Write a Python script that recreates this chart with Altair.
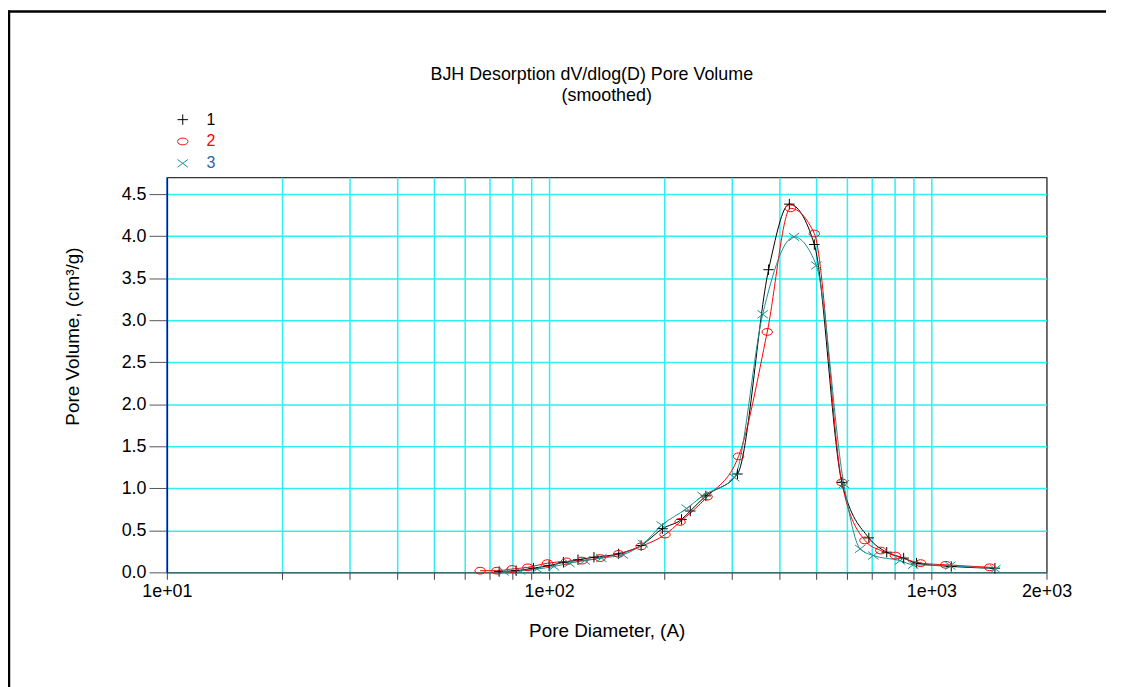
import altair as alt
import pandas as pd

# ---------------- data ----------------
series_names = ["1", "2", "3"]
series_colors = ["#000000", "#FF0000", "#1E8E8E"]
label_colors = ["#000000", "#FF0000", "#2F5FA8"]

d1 = [74, 82, 91, 100, 109, 119, 131, 152, 174, 198, 222, 234, 257, 311, 375, 425, 494, 583, 686, 764, 846, 914, 1127, 1466]
v1 = [0.01, 0.02, 0.05, 0.08, 0.12, 0.15, 0.18, 0.22, 0.32, 0.52, 0.63, 0.73, 0.91, 1.17, 3.60, 4.38, 3.90, 1.07, 0.41, 0.24, 0.17, 0.11, 0.07, 0.05]

d2 = [66, 73, 80, 88, 99, 111, 122, 136, 152, 174, 201, 220, 259, 313, 372, 428, 494, 583, 670, 737, 805, 937, 1090, 1420]
v2 = [0.02, 0.02, 0.04, 0.06, 0.11, 0.13, 0.14, 0.17, 0.22, 0.31, 0.45, 0.60, 0.90, 1.38, 2.86, 4.33, 4.03, 1.07, 0.38, 0.26, 0.20, 0.11, 0.09, 0.06]

d3 = [76, 84, 93, 103, 113, 124, 137, 156, 176, 197, 229, 252, 305, 362, 437, 500, 590, 651, 705, 828, 896, 1120, 1470]
v3 = [0.01, 0.02, 0.04, 0.07, 0.11, 0.14, 0.17, 0.21, 0.34, 0.56, 0.76, 0.91, 1.13, 3.07, 3.99, 3.65, 1.05, 0.28, 0.20, 0.14, 0.09, 0.08, 0.04]

x_tick_values = [10, 20, 30, 40, 50, 60, 70, 80, 90, 100, 200, 300, 400, 500, 600, 700, 800, 900, 1000, 2000]
x_label_values = [10, 100, 1000, 2000]
x_label_texts = ["1e+01", "1e+02", "1e+03", "2e+03"]
y_tick_values = [0.0, 0.5, 1.0, 1.5, 2.0, 2.5, 3.0, 3.5, 4.0, 4.5]

title_lines = ["BJH Desorption dV/dlog(D) Pore Volume", "(smoothed)"]
x_title = "Pore Diameter, (A)"
y_title = "Pore Volume, (cm³/g)"

# marker shapes (custom symbol paths): plus, ellipse, x
marker_paths = [
    "M-1,0L1,0M0,-1L0,1",
    "M-1,0A1,0.65,0,1,1,1,0A1,0.65,0,1,1,-1,0Z",
    "M-1,-0.75L1,0.75M-1,0.75L1,-0.75",
]

# ---------------- tables ----------------
rows = []
for name, ds, vs in zip(series_names, [d1, d2, d3], [v1, v2, v3]):
    for d, v in zip(ds, vs):
        rows.append({"D": d, "V": v, "series": name})
df = pd.DataFrame(rows)

legend_df = pd.DataFrame({
    "series": series_names,
    "row": list(range(len(series_names))),
    "lc": label_colors,
})

FONT = "Liberation Sans"
GRID = "#2EEFF2"

label_expr = " : ".join(
    f"datum.value == {v} ? '{t}'" for v, t in zip(x_label_values, x_label_texts)
) + " : ''"

color_scale = alt.Scale(domain=series_names, range=series_colors)
shape_scale = alt.Scale(domain=series_names, range=marker_paths)

x_enc = alt.X(
    "D:Q",
    scale=alt.Scale(type="log", domain=[10, 2000], nice=False),
    axis=alt.Axis(
        values=x_tick_values,
        labelExpr=label_expr,
        grid=True,
        gridColor={"condition": {"test": "datum.value == 2000", "value": "#666666"},
                   "value": GRID},
        gridWidth=1.5,
        tickSize=7,
        tickColor="#444444",
        domainColor="#444444",
        labelPadding=3,
        labelFlush=False,
        labelOverlap=False,
        title=x_title,
        titleY=59,
        titleBaseline="middle",
    ),
)
y_enc = alt.Y(
    "V:Q",
    scale=alt.Scale(domain=[0, 4.7], nice=False, zero=True),
    axis=alt.Axis(
        values=y_tick_values,
        format=".1f",
        grid=True,
        gridColor=GRID,
        gridWidth=1.5,
        tickSize=18,
        tickColor="#555555",
        domainColor="#0000FF",
        domainWidth=1.5,
        labelPadding=3,
        title=y_title,
        titleX=-95,
        titleY=160,
        titleAngle=270,
        titleAlign="center",
        titleBaseline="middle",
    ),
)

lines = alt.Chart(df).mark_line(interpolate="monotone", strokeWidth=1).encode(
    x=x_enc,
    y=y_enc,
    color=alt.Color("series:N", scale=color_scale, legend=None),
)

points = alt.Chart(df).mark_point(filled=False, strokeWidth=1, opacity=1, size=110).encode(
    x=alt.X("D:Q"),
    y=alt.Y("V:Q"),
    color=alt.Color("series:N", scale=color_scale, legend=None),
    shape=alt.Shape("series:N", scale=shape_scale, legend=None),
)

data_layer = alt.layer(lines, points)

legend_y = alt.Y("row:Q", scale=alt.Scale(domain=[0, 2], range=[-58, -14]), axis=None)

legend_sym = alt.Chart(legend_df).mark_point(filled=False, strokeWidth=1, opacity=1, size=110).encode(
    x=alt.value(16),
    y=legend_y,
    color=alt.Color("series:N", scale=color_scale, legend=None),
    shape=alt.Shape("series:N", scale=shape_scale, legend=None),
)
legend_txt = alt.Chart(legend_df).mark_text(
    align="left", baseline="middle", font=FONT, fontSize=16
).encode(
    x=alt.value(40),
    y=legend_y,
    text="series:N",
    color=alt.Color("lc:N", scale=None),
)
legend_layer = alt.layer(legend_sym, legend_txt)

title1 = alt.Chart(pd.DataFrame({"t": [title_lines[0]]})).mark_text(
    align="center", baseline="middle", font=FONT, fontSize=18
).encode(x=alt.value(428), y=alt.value(-103), text="t:N")
title2 = alt.Chart(pd.DataFrame({"t": [title_lines[1]]})).mark_text(
    align="center", baseline="middle", font=FONT, fontSize=18
).encode(x=alt.value(443), y=alt.value(-82), text="t:N")

frame_top = alt.Chart(pd.DataFrame({"a": [0]})).mark_rule(color="#000000", strokeWidth=2.5).encode(
    x=alt.value(-160), x2=alt.value(946), y=alt.value(-167)
)
frame_left = alt.Chart(pd.DataFrame({"a": [0]})).mark_rule(color="#000000", strokeWidth=2.5).encode(
    x=alt.value(-159), y=alt.value(-168), y2=alt.value(520)
)

chart = alt.layer(
    data_layer, legend_layer, title1, title2, frame_top, frame_left
).resolve_scale(y="independent").properties(
    width=886,
    height=398,
    padding={"left": 160, "top": 168, "right": 68, "bottom": 113},
    autosize=alt.AutoSizeParams(type="none"),
    background="white",
).configure_view(
    stroke="#333333", strokeWidth=1.2
).configure_axis(
    labelFont=FONT, labelFontSize=18, labelColor="#000000",
    titleFont=FONT, titleFontSize=19, titleFontWeight="normal", titleColor="#000000",
)

chart.save("out.html", embed_options={"renderer": "svg", "actions": False})
